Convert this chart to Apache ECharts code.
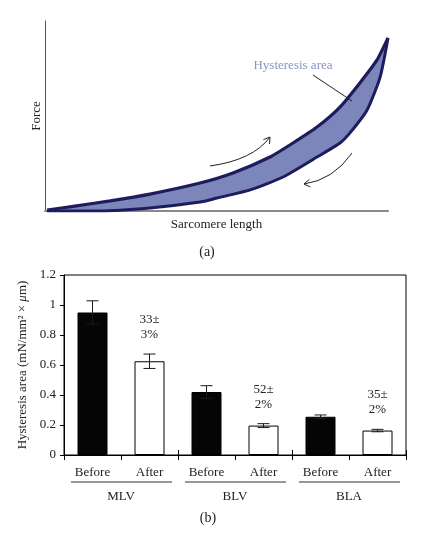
<!DOCTYPE html>
<html><head><meta charset="utf-8">
<script src="https://cdn.jsdelivr.net/npm/echarts@6/dist/echarts.min.js"></script>
<style>html,body{margin:0;padding:0;background:#fff}#c{width:429px;height:535px}</style>
</head><body><div id="c"></div>
<script>
// Panel (a): hysteresis loop (arbitrary units, 0-100)
const loadX   = [0.6, 8.7, 19.0, 30.6, 45.2, 54.8, 65.6, 72.3, 79.3, 86.0, 91.8, 96.8, 100];
const loadY   = [0.5, 2.6, 5.3, 8.9, 14.7, 20.0, 28.4, 35.8, 44.2, 54.7, 67.4, 79.5, 91.1];
const unloadX = [100, 97.7, 93.9, 88.9, 86.0, 79.3, 69.4, 59.8, 50.1, 45.2, 30.6, 16.0, 0.6];
const unloadY = [91.1, 70.5, 53.2, 41.1, 35.8, 28.4, 17.9, 11.1, 6.8, 4.7, 1.6, 0, 0];
const arrowPaths = [[48.1, 23.7, 60.6, 26.8, 65.6, 38.9], [89.5, 30.5, 84.0, 16.3, 75.5, 14.2]];
const pointerLine = [[78.1, 71.6], [89.5, 57.9]];
const areaLabelPos = [72.3, 76.8];
const areaLabel = 'Hysteresis area';

// Panel (b): bar chart
const conditions = ['Before', 'After', 'Before', 'After', 'Before', 'After'];
const groups = ['MLV', 'BLV', 'BLA'];
const meanArea = [0.95, 0.625, 0.42, 0.196, 0.255, 0.163];
const errArea = [0.078, 0.048, 0.042, 0.013, 0.012, 0.008];
const reductionLabels = ['', '33±\n3%', '', '52±\n2%', '', '35±\n2%'];

const FONT = 'Liberation Serif';
const TXT = '#222';
const chart = echarts.init(document.getElementById('c'), null, {renderer: 'canvas'});

const loadData = loadX.map((x, i) => [x, loadY[i]]);
const unloadData = unloadX.map((x, i) => [x, unloadY[i]]);

chart.setOption({
  animation: false,
  backgroundColor: '#fff',
  textStyle: {fontFamily: FONT},
  grid: [
    {left: 45, top: 21, width: 343, height: 190},
    {left: 64, top: 275, width: 342, height: 180, show: true, borderColor: '#000', borderWidth: 1, backgroundColor: 'transparent'}
  ],
  xAxis: [
    {type: 'value', gridIndex: 0, min: 0, max: 100,
     axisLine: {show: true, onZero: false, lineStyle: {color: '#8a8a8a', width: 2}},
     axisTick: {show: false}, axisLabel: {show: false}, splitLine: {show: false},
     name: 'Sarcomere length', nameLocation: 'middle', nameGap: 7,
     nameTextStyle: {fontFamily: FONT, fontSize: 13, color: TXT, verticalAlign: 'top'}},
    {type: 'category', gridIndex: 1, data: conditions, position: 'bottom',
     axisLine: {show: true, lineStyle: {color: '#000', width: 1}},
     axisTick: {show: true, length: 5, lineStyle: {color: '#000'}},
     axisLabel: {margin: 11, fontFamily: FONT, fontSize: 13, color: TXT}},
    {type: 'category', gridIndex: 1, data: groups, position: 'bottom',
     axisLine: {show: false},
     axisTick: {show: true, inside: true, length: 5, lineStyle: {color: '#000'}},
     axisLabel: {margin: 35, fontFamily: FONT, fontSize: 13, color: TXT}}
  ],
  yAxis: [
    {type: 'value', gridIndex: 0, min: 0, max: 100,
     axisLine: {show: true, onZero: false, lineStyle: {color: '#555', width: 1}},
     axisTick: {show: false}, axisLabel: {show: false}, splitLine: {show: false},
     name: 'Force', nameLocation: 'middle', nameGap: 2, nameRotate: 90,
     nameTextStyle: {fontFamily: FONT, fontSize: 13, color: TXT}},
    {type: 'value', gridIndex: 1, min: 0, max: 1.2, interval: 0.2,
     axisLine: {show: true, lineStyle: {color: '#000', width: 1}},
     axisTick: {show: true, length: 4, lineStyle: {color: '#000'}},
     axisLabel: {margin: 8, fontFamily: FONT, fontSize: 13, color: TXT},
     splitLine: {show: false},
     name: 'Hysteresis area (mN/mm² × {i|μ}m)', nameLocation: 'middle', nameGap: 33, nameRotate: 90,
     nameTextStyle: {fontFamily: FONT, fontSize: 13, color: TXT,
       rich: {i: {fontFamily: FONT, fontSize: 13, fontStyle: 'italic', color: TXT}}}}
  ],
  graphic: [
    {type: 'text', style: {text: '(a)', x: 207, y: 252, textAlign: 'center', textVerticalAlign: 'middle', font: '14px "Liberation Serif"', fill: TXT}},
    {type: 'text', style: {text: '(b)', x: 208, y: 518, textAlign: 'center', textVerticalAlign: 'middle', font: '14px "Liberation Serif"', fill: TXT}}
  ],
  series: [
    // loop fill
    {type: 'custom', xAxisIndex: 0, yAxisIndex: 0, data: [[0, 0]], z: 1, clip: false, silent: true,
     renderItem: function (params, api) {
       const pts = loadData.concat(unloadData).map(p => api.coord(p));
       return {type: 'polygon', shape: {points: pts, smooth: 0.2}, style: {fill: '#7c86bb', stroke: null}};
     }},
    {type: 'line', xAxisIndex: 0, yAxisIndex: 0, data: loadData, smooth: 0.2, symbol: 'none', z: 3,
     lineStyle: {color: '#1e1c5c', width: 3.2}},
    {type: 'line', xAxisIndex: 0, yAxisIndex: 0, data: unloadData, smooth: 0.2, symbol: 'none', z: 3,
     lineStyle: {color: '#1e1c5c', width: 3}},
    {type: 'line', xAxisIndex: 0, yAxisIndex: 0, data: pointerLine, symbol: 'none', z: 4,
     lineStyle: {color: '#222', width: 1}},
    // arrows
    {type: 'custom', xAxisIndex: 0, yAxisIndex: 0, data: arrowPaths, z: 4, clip: false, silent: true,
     renderItem: function (params, api) {
       const s = api.coord([api.value(0), api.value(1)]);
       const c = api.coord([api.value(2), api.value(3)]);
       const e = api.coord([api.value(4), api.value(5)]);
       let dx = e[0] - c[0], dy = e[1] - c[1];
       const L = Math.hypot(dx, dy); dx /= L; dy /= L;
       const a = 7, ang = Math.PI / 5.5;
       const h1 = [e[0] - a * (dx * Math.cos(ang) - dy * Math.sin(ang)), e[1] - a * (dy * Math.cos(ang) + dx * Math.sin(ang))];
       const h2 = [e[0] - a * (dx * Math.cos(-ang) - dy * Math.sin(-ang)), e[1] - a * (dy * Math.cos(-ang) + dx * Math.sin(-ang))];
       return {type: 'group', children: [
         {type: 'bezierCurve', shape: {x1: s[0], y1: s[1], cpx1: c[0], cpy1: c[1], x2: e[0], y2: e[1]},
          style: {stroke: '#222', lineWidth: 1, fill: null}},
         {type: 'polyline', shape: {points: [h1, e, h2]}, style: {stroke: '#222', lineWidth: 1, fill: null}}
       ]};
     }},
    // area label
    {type: 'custom', xAxisIndex: 0, yAxisIndex: 0, data: [areaLabelPos], z: 5, clip: false, silent: true,
     renderItem: function (params, api) {
       const p = api.coord([api.value(0), api.value(1)]);
       return {type: 'text', style: {text: areaLabel, x: p[0], y: p[1], textAlign: 'center', textVerticalAlign: 'middle',
         font: '13px "Liberation Serif"', fill: '#8a92c6'}};
     }},
    // bars
    {type: 'bar', xAxisIndex: 1, yAxisIndex: 1, barWidth: 30, z: 2,
     data: meanArea.map((v, i) => ({value: v, itemStyle: {color: i % 2 ? '#fff' : '#050505', borderColor: '#000', borderWidth: 1}}))},
    // error bars + reduction labels
    {type: 'custom', xAxisIndex: 1, yAxisIndex: 1, z: 3, clip: false, silent: true,
     data: meanArea.map((m, i) => [i, m, errArea[i]]),
     renderItem: function (params, api) {
       const i = api.value(0), m = api.value(1), e = api.value(2);
       const top = api.coord([i, m + e]), bot = api.coord([i, m - e]);
       const w = 6;
       const st = {stroke: '#1a1a1a', lineWidth: 1};
       const ch = [
         {type: 'line', shape: {x1: top[0], y1: top[1], x2: bot[0], y2: bot[1]}, style: st},
         {type: 'line', shape: {x1: top[0] - w, y1: top[1], x2: top[0] + w, y2: top[1]}, style: st},
         {type: 'line', shape: {x1: bot[0] - w, y1: bot[1], x2: bot[0] + w, y2: bot[1]}, style: st}
       ];
       const lbl = reductionLabels[params.dataIndex];
       if (lbl) {
         ch.push({type: 'text', style: {text: lbl, x: top[0], y: top[1] - 12, textAlign: 'center', textVerticalAlign: 'bottom',
           font: '13px "Liberation Serif"', lineHeight: 15, fill: TXT}});
       }
       return {type: 'group', children: ch};
     }},
    // group underlines
    {type: 'custom', xAxisIndex: 1, yAxisIndex: 1, z: 3, clip: false, silent: true,
     data: groups.map((g, k) => [2 * k, 0]),
     renderItem: function (params, api) {
       const k = api.value(0);
       const c0 = api.coord([k, 0]), c1 = api.coord([k + 1, 0]);
       const band = api.size([1, 0])[0];
       const y = c0[1] + 27;
       return {type: 'line', shape: {x1: c0[0] - band / 2 + 7, y1: y, x2: c1[0] + band / 2 - 6, y2: y},
         style: {stroke: '#333', lineWidth: 1}};
     }}
  ]
});
</script>
</body></html>
